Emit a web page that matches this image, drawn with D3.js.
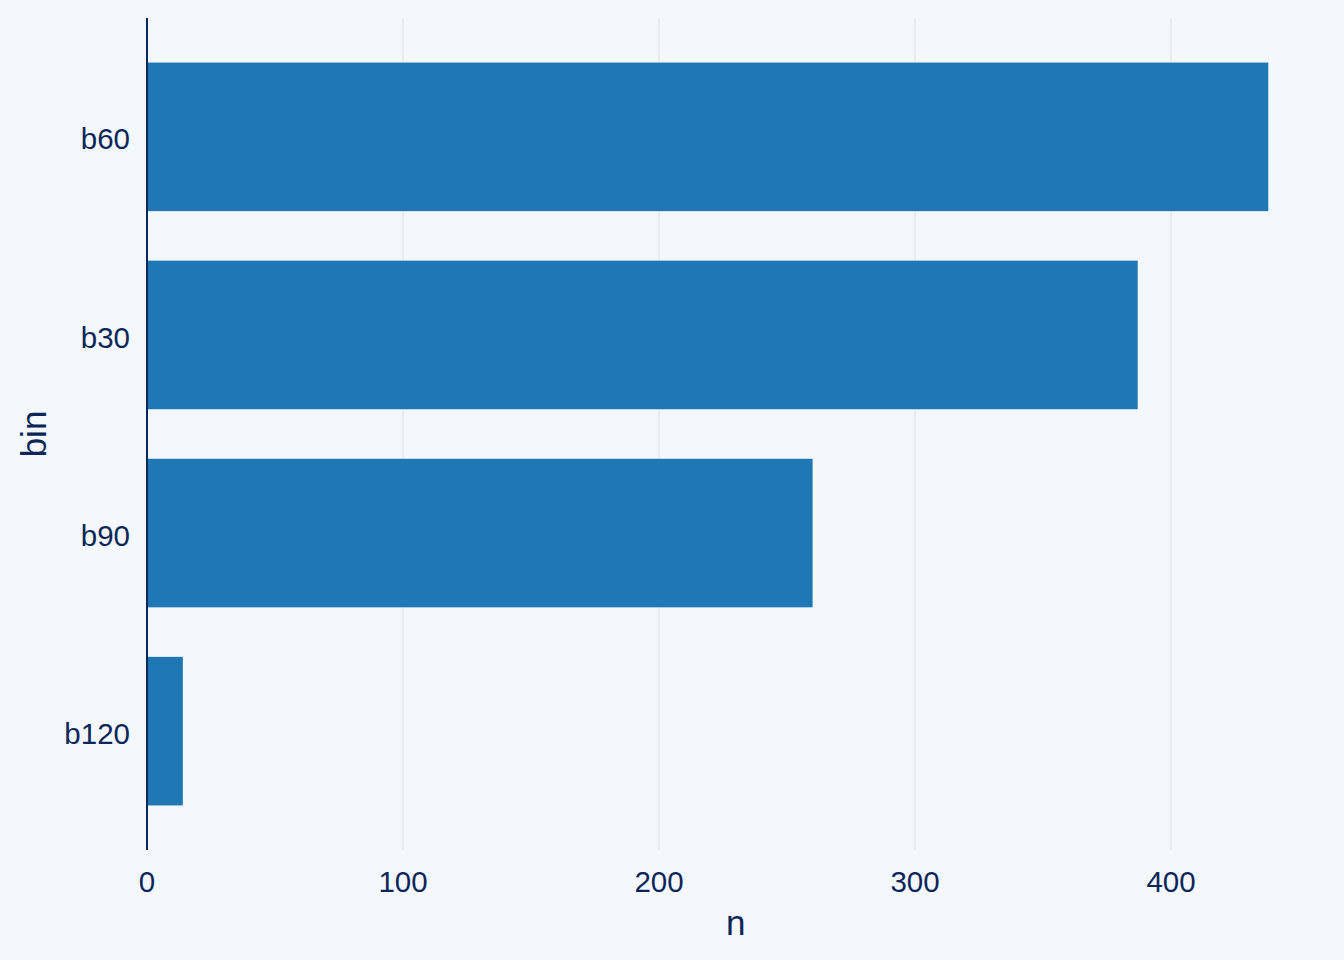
<!DOCTYPE html>
<html>
<head>
<meta charset="utf-8">
<script src="https://cdn.jsdelivr.net/npm/d3@7"></script>
<style>
  body { margin: 0; background: #f4f7fc; }
  svg { display: block; font-family: "Liberation Sans", Arial, sans-serif; }
</style>
</head>
<body>
<svg id="chart" width="1344" height="960"></svg>
<script>
// data
var bins = ["b60", "b30", "b90", "b120"];
var counts = [438, 387, 260, 14];
var xTicks = [0, 100, 200, 300, 400];

var data = bins.map((b, i) => ({ bin: b, n: counts[i] }));

var svg = d3.select("#chart");
var ink = "#0c2757";

svg.append("rect").attr("width", 1344).attr("height", 960).attr("fill", "#f4f7fc");

var margin = { top: 18, left: 147, bottom: 850, right: 1324.6 };

var x = d3.scaleLinear().domain([0, 460]).range([margin.left, margin.right]);

// ggplot-like discrete scale: positions 1..4 with 0.6 padding each side
var yPos = d3.scaleLinear().domain([0.4, bins.length + 0.6]).range([margin.top, margin.bottom]);
var barH = yPos(1.375) - yPos(0.625);

// vertical grid lines
svg.append("g")
  .selectAll("line")
  .data(xTicks)
  .enter().append("line")
  .attr("x1", d => x(d)).attr("x2", d => x(d))
  .attr("y1", margin.top).attr("y2", margin.bottom)
  .attr("stroke", "#dde1e7")
  .attr("stroke-width", 1);

// bars
svg.append("g")
  .selectAll("rect")
  .data(data)
  .enter().append("rect")
  .attr("x", x(0))
  .attr("y", (d, i) => yPos(i + 1) - barH / 2)
  .attr("width", d => x(d.n) - x(0))
  .attr("height", barH)
  .attr("fill", "#1f77b4");

// y axis line
svg.append("line")
  .attr("x1", x(0)).attr("x2", x(0))
  .attr("y1", margin.top).attr("y2", margin.bottom)
  .attr("stroke", ink)
  .attr("stroke-width", 2);

// x tick labels
svg.append("g")
  .selectAll("text")
  .data(xTicks)
  .enter().append("text")
  .attr("x", d => x(d))
  .attr("y", 892)
  .attr("text-anchor", "middle")
  .attr("font-size", 29.5)
  .attr("fill", ink)
  .text(d => d);

// y tick labels
svg.append("g")
  .selectAll("text")
  .data(bins)
  .enter().append("text")
  .attr("x", 130)
  .attr("y", (d, i) => yPos(i + 1) + 2)
  .attr("dy", "0.36em")
  .attr("text-anchor", "end")
  .attr("font-size", 29.5)
  .attr("fill", ink)
  .text(d => d);

// axis titles
svg.append("text")
  .attr("x", (x(0) + margin.right) / 2)
  .attr("y", 935)
  .attr("text-anchor", "middle")
  .attr("font-size", 35)
  .attr("fill", ink)
  .text("n");

svg.append("text")
  .attr("transform", "translate(46," + (margin.top + margin.bottom) / 2 + ") rotate(-90)")
  .attr("text-anchor", "middle")
  .attr("font-size", 35)
  .attr("fill", ink)
  .text("bin");
</script>
</body>
</html>
